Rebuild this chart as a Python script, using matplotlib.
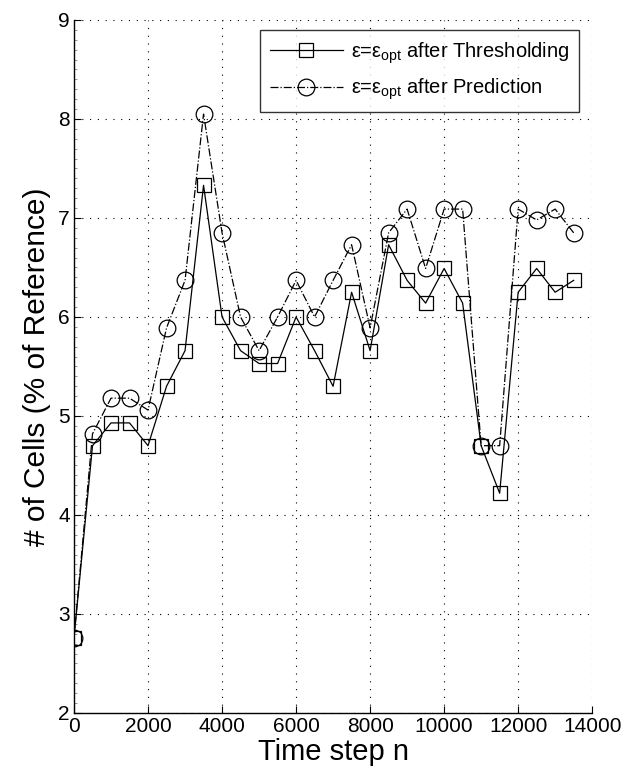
import matplotlib
matplotlib.use("Agg")
import matplotlib.pyplot as plt
from matplotlib.ticker import MultipleLocator

plt.rcParams['font.family'] = ['Liberation Sans', 'DejaVu Sans']
plt.rcParams['mathtext.fontset'] = 'custom'
plt.rcParams['mathtext.rm'] = 'Liberation Sans'
plt.rcParams['mathtext.it'] = 'Liberation Sans'

steps = list(range(0, 14000, 500))

# cell count after thresholding
thresholding = [2.76, 4.70, 4.93, 4.93, 4.70, 5.30, 5.66, 7.33, 6.00, 5.66,
                5.53, 5.53, 6.00, 5.66, 5.30, 6.25, 5.66, 6.73, 6.37, 6.14,
                6.49, 6.14, 4.70, 4.22, 6.25, 6.49, 6.25, 6.37]

# cell count after prediction
prediction = [2.76, 4.82, 5.18, 5.18, 5.06, 5.89, 6.37, 8.05, 6.85, 6.00,
              5.66, 6.00, 6.37, 6.00, 6.37, 6.73, 5.89, 6.85, 7.09, 6.49,
              7.09, 7.09, 4.70, 4.70, 7.09, 6.98, 7.09, 6.85]

labels = [r'$\mathrm{\varepsilon}$=$\mathrm{\varepsilon}_{\mathrm{opt}}$ after Thresholding',
          r'$\mathrm{\varepsilon}$=$\mathrm{\varepsilon}_{\mathrm{opt}}$ after Prediction']

fig = plt.figure(figsize=(6.24, 7.81), dpi=100)
ax = fig.add_axes([0.1186, 0.0871, 0.8304, 0.8873])

ax.plot(steps, thresholding, '-', color='black', lw=0.9, marker='s',
        markersize=9.5, markerfacecolor='none', markeredgecolor='black',
        markeredgewidth=0.9, label=labels[0])
ax.plot(steps, prediction, '-.', color='black', lw=0.9, marker='o',
        markersize=12, markerfacecolor='none', markeredgecolor='black',
        markeredgewidth=0.9, label=labels[1])

ax.set_xlim(0, 14000)
ax.set_ylim(2, 9)
ax.set_xticks(range(0, 14001, 2000))
ax.set_yticks(range(2, 10))
ax.yaxis.set_minor_locator(MultipleLocator(0.1))
ax.grid(True, which='major', linestyle=(0, (1, 6)), color='black', lw=0.8)

for side in ['top', 'right']:
    ax.spines[side].set_visible(False)
for side in ['left', 'bottom']:
    ax.spines[side].set_linewidth(1.0)

ax.tick_params(direction='in', length=5, labelsize=15, pad=3)
ax.tick_params(which='minor', direction='in', length=2, width=0.5, color='0.4')

ax.set_xlabel('Time step n', fontsize=21, labelpad=1)
ax.set_ylabel('# of Cells (% of Reference)', fontsize=21.5, labelpad=5)

leg = ax.legend(loc='upper right', fontsize=14.5, frameon=True, fancybox=False,
                edgecolor='black', borderpad=0.5, handlelength=3.6,
                handletextpad=0.4, labelspacing=0.55, borderaxespad=0,
                bbox_to_anchor=(0.975, 0.9856))
leg.get_frame().set_linewidth(1.0)

fig.savefig('out.png', dpi=100)
